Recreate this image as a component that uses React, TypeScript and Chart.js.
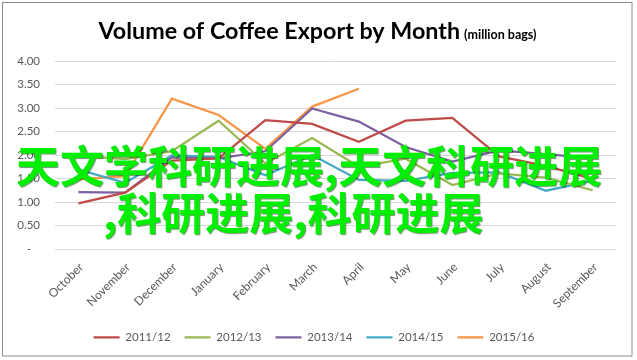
import { useEffect, useRef } from 'react';
import { Chart, registerables } from 'chart.js';

Chart.register(...registerables);

const months = ['October', 'November', 'December', 'January', 'February', 'March', 'April', 'May', 'June', 'July', 'August', 'September'];

const s2011 = [0.97, 1.2, 1.88, 1.93, 2.74, 2.66, 2.28, 2.73, 2.79, 1.97, 1.77, 1.49];
const s2012 = [1.98, 1.91, 2.08, 2.73, 1.82, 2.36, 1.75, 1.92, 1.36, 1.61, 1.52, 1.25];
const s2013 = [1.21, 1.2, 1.95, 1.93, 2.08, 2.99, 2.71, 2.17, 1.86, 2.1, 2.02, 1.93];
const s2014 = [1.69, 1.41, 1.99, 1.96, 1.57, 2.0, 1.47, 1.45, 1.62, 1.63, 1.24, 1.45];
const s2015 = [1.48, 1.55, 3.2, 2.85, 2.13, 3.03, 3.41, null, null, null, null, null];

const seriesNames = ['2011/12', '2012/13', '2013/14', '2014/15', '2015/16'];
const seriesColors = ['#BE4B48', '#98B954', '#7D60A0', '#46AAC5', '#F79646'];

const yMin = 0;
const yMax = 4;
const yStep = 0.5;

const titleText = 'Volume of Coffee Export by Month';
const titleUnit = '(million bags)';
const overlayLine1 = '天文学科研进展,天文科研进展';
const overlayLine2 = ',科研进展,科研进展';

const W = 637;
const H = 360;

const framePlugin = {
  id: 'frameAndTitle',
  beforeDraw(chart: any) {
    const ctx = chart.ctx;
    ctx.save();
    ctx.fillStyle = '#FFFFFF';
    ctx.fillRect(0, 0, chart.width, chart.height);
    ctx.restore();
  },
  afterDraw(chart: any) {
    const ctx = chart.ctx;
    ctx.save();
    ctx.strokeStyle = '#8C8C8C';
    ctx.lineWidth = 1;
    ctx.strokeRect(2.5, 2.5, 629.5, 353.5);
    const bigFont = 'bold 23.3px Lato';
    const smallFont = 'bold 12.5px Lato';
    ctx.font = bigFont;
    const w1 = ctx.measureText(titleText).width;
    ctx.font = smallFont;
    const w2 = ctx.measureText(titleUnit).width;
    const gap = 4;
    const x0 = (chart.width - (w1 + gap + w2)) / 2 - 1;
    ctx.fillStyle = '#000000';
    ctx.textAlign = 'left';
    ctx.textBaseline = 'alphabetic';
    ctx.font = bigFont;
    ctx.fillText(titleText, x0, 39);
    ctx.font = smallFont;
    ctx.fillText(titleUnit, x0 + w1 + gap, 39);
    ctx.restore();
  },
};

export default function App() {
  const canvasRef = useRef<HTMLCanvasElement | null>(null);

  useEffect(() => {
    if (!canvasRef.current) return;
    const allSeries = [s2011, s2012, s2013, s2014, s2015];
    const tickFont = { family: 'Lato', size: 11.5 };
    const chart = new Chart(canvasRef.current, {
      type: 'line',
      data: {
        labels: months,
        datasets: allSeries.map((d, i) => ({
          label: seriesNames[i],
          data: d,
          borderColor: seriesColors[i],
          backgroundColor: seriesColors[i],
          borderWidth: 2.25,
          pointRadius: 0,
          pointHoverRadius: 0,
          tension: 0,
          fill: false,
          spanGaps: false,
        })),
      },
      options: {
        responsive: false,
        animation: false,
        layout: { padding: { top: 61, left: 0, right: 9, bottom: 7 } },
        plugins: {
          title: { display: false },
          tooltip: { enabled: false },
          legend: {
            position: 'bottom',
            labels: {
              usePointStyle: true,
              pointStyle: 'line',
              pointStyleWidth: 26,
              font: tickFont,
              color: '#595959',
              padding: 14,
            },
          },
        },
        scales: {
          x: {
            offset: true,
            grid: { display: false, drawTicks: false, offset: true },
            border: { display: false },
            ticks: {
              autoSkip: false,
              maxRotation: 45,
              minRotation: 45,
              font: { family: 'Lato', size: 12 },
              color: '#595959',
              padding: 11,
              labelOffset: 3,
            },
            afterFit: (s: any) => {
              s.height = 68.5;
            },
          },
          y: {
            min: yMin,
            max: yMax,
            ticks: {
              stepSize: yStep,
              padding: 15,
              font: tickFont,
              color: '#595959',
              callback: (v: any) => (Number(v) === 0 ? '-   ' : Number(v).toFixed(2)),
            },
            grid: { color: '#D9D9D9', lineWidth: 1, drawTicks: false },
            border: { display: false },
            afterFit: (s: any) => {
              s.width = 55;
            },
          },
          yRight: {
            position: 'right',
            display: true,
            grid: { display: false, drawTicks: false },
            border: { display: false },
            ticks: { display: false },
            afterFit: (s: any) => {
              s.width = 12;
            },
          },
        },
      },
      plugins: [framePlugin],
    } as any);
    return () => chart.destroy();
  }, []);

  const overlayStyle: any = {
    position: 'absolute',
    fontFamily: '"Noto Sans CJK SC", sans-serif',
    fontWeight: 'bold',
    fontSize: 44,
    lineHeight: '44px',
    color: '#00EE00',
    whiteSpace: 'nowrap',
    pointerEvents: 'none',
    textShadow: '1px 1px 1px rgba(0,60,0,0.55)',
  };

  return (
    <div style={{ position: 'fixed', left: 0, top: 0, width: W, height: H, background: '#FFFFFF' }}>
      <canvas ref={canvasRef} width={W} height={H} style={{ display: 'block', width: W, height: H }} />
      <div style={{ ...overlayStyle, left: 16, top: 142 }}>{overlayLine1}</div>
      <div style={{ ...overlayStyle, left: 103, top: 189 }}>{overlayLine2}</div>
    </div>
  );
}
